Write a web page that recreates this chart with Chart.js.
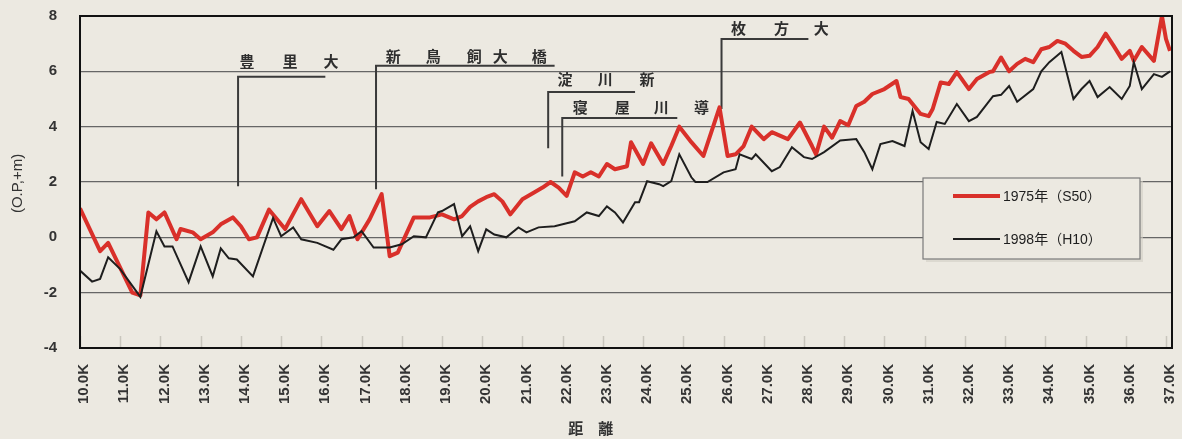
<!DOCTYPE html>
<html>
<head>
<meta charset="utf-8">
<script src="https://cdn.jsdelivr.net/npm/chart.js@4.4.1/dist/chart.umd.min.js"></script>
<style>
  html, body { margin: 0; padding: 0; background: #ece9e1; }
  #wrap { width: 1182px; height: 439px; position: relative; }
</style>
</head>
<body>
<div id="wrap"><canvas id="c" width="1182" height="439"></canvas></div>
<script>
// ---- data (distance in km, elevation in O.P.+m) ----
const seriesNames = ['1975年（S50）', '1998年（H10）'];

const dist1975 = [10.0,10.5,10.7,11.3,11.5,11.7,11.9,12.1,12.4,12.5,12.8,13.0,13.3,13.5,13.8,14.0,14.2,14.4,14.7,15.1,15.5,15.9,16.2,16.5,16.7,16.9,17.2,17.5,17.7,17.9,18.3,18.7,19.0,19.3,19.5,19.7,19.9,20.1,20.3,20.5,20.7,21.0,21.3,21.5,21.7,21.9,22.1,22.3,22.5,22.7,22.9,23.1,23.3,23.6,23.7,24.0,24.2,24.5,24.7,24.9,25.2,25.5,25.9,26.1,26.3,26.5,26.7,27.0,27.2,27.6,27.9,28.2,28.3,28.5,28.7,28.9,29.1,29.3,29.5,29.7,30.0,30.3,30.4,30.6,30.9,31.1,31.2,31.4,31.6,31.8,32.1,32.3,32.6,32.7,32.9,33.1,33.3,33.5,33.7,33.9,34.1,34.3,34.5,34.7,34.9,35.1,35.3,35.5,35.7,35.9,36.1,36.2,36.4,36.7,36.9,37.0,37.1];
const elev1975 = [1.05,-0.5,-0.2,-2.0,-2.1,0.9,0.65,0.9,-0.07,0.3,0.18,-0.07,0.18,0.47,0.72,0.4,-0.07,0.0,1.0,0.3,1.38,0.4,0.95,0.3,0.77,-0.07,0.65,1.56,-0.68,-0.55,0.72,0.72,0.83,0.65,0.77,1.1,1.3,1.45,1.56,1.3,0.83,1.38,1.63,1.8,2.0,1.8,1.5,2.35,2.2,2.35,2.2,2.65,2.46,2.57,3.44,2.65,3.4,2.65,3.3,4.0,3.44,2.94,4.7,2.94,3.0,3.3,4.0,3.55,3.8,3.55,4.15,3.3,3.0,4.0,3.6,4.2,4.05,4.75,4.9,5.18,5.36,5.65,5.07,5.0,4.46,4.38,4.64,5.6,5.54,5.97,5.36,5.72,5.97,6.0,6.5,6.0,6.27,6.45,6.33,6.8,6.88,7.1,7.0,6.74,6.52,6.56,6.88,7.36,6.92,6.45,6.74,6.38,6.88,6.38,8.0,7.17,6.74];

const dist1998 = [10.0,10.3,10.5,10.7,11.0,11.5,11.9,12.1,12.3,12.7,13.0,13.3,13.5,13.7,13.9,14.3,14.8,15.0,15.3,15.5,15.9,16.3,16.5,16.8,17.0,17.3,17.7,18.0,18.3,18.6,18.9,19.0,19.3,19.5,19.7,19.9,20.1,20.3,20.6,20.9,21.1,21.4,21.8,22.0,22.3,22.6,22.9,23.1,23.3,23.5,23.8,23.9,24.1,24.4,24.5,24.7,24.9,25.2,25.3,25.6,26.0,26.3,26.4,26.7,26.8,27.2,27.4,27.7,28.0,28.2,28.5,28.9,29.3,29.5,29.7,29.9,30.2,30.5,30.7,30.9,31.1,31.3,31.5,31.8,32.1,32.3,32.7,32.9,33.1,33.3,33.7,33.9,34.1,34.4,34.7,34.9,35.1,35.3,35.6,35.9,36.1,36.2,36.4,36.7,36.9,37.1];
const elev1998 = [-1.2,-1.6,-1.5,-0.72,-1.15,-2.15,0.22,-0.33,-0.33,-1.62,-0.33,-1.41,-0.4,-0.76,-0.8,-1.41,0.7,0.04,0.36,-0.07,-0.2,-0.45,-0.07,0.0,0.22,-0.37,-0.37,-0.25,0.04,0.0,0.9,0.95,1.2,0.04,0.4,-0.5,0.29,0.1,0.0,0.36,0.18,0.36,0.4,0.47,0.58,0.9,0.77,1.12,0.9,0.54,1.27,1.27,2.03,1.92,1.85,2.03,3.0,2.17,2.0,2.0,2.35,2.46,3.0,2.83,3.0,2.39,2.54,3.26,2.9,2.83,3.08,3.5,3.55,3.08,2.46,3.37,3.48,3.3,4.57,3.44,3.19,4.17,4.1,4.82,4.2,4.35,5.1,5.15,5.47,4.9,5.36,6.0,6.33,6.7,5.0,5.36,5.65,5.07,5.43,5.0,5.47,6.33,5.36,5.9,5.8,6.0];

const xTickKm = [10,11,12,13,14,15,16,17,18,19,20,21,22,23,24,25,26,27,28,29,30,31,32,33,34,35,36,37];
const xTickLabels = ['10.0K','11.0K','12.0K','13.0K','14.0K','15.0K','16.0K','17.0K','18.0K','19.0K','20.0K','21.0K','22.0K','23.0K','24.0K','25.0K','26.0K','27.0K','28.0K','29.0K','30.0K','31.0K','32.0K','33.0K','34.0K','35.0K','36.0K','37.0K'];
const yTicks = [-4,-2,0,2,4,6,8];

// bridge annotations
const bridgeChars = [
  ['豊','里','大'],
  ['新','鳥','飼','大','橋'],
  ['淀','川','新'],
  ['寝','屋','川','導'],
  ['枚','方','大']
];
const bridgeCharKm = [
  [14.15,15.22,16.24],
  [17.79,18.78,19.80,20.45,21.42],
  [22.06,23.06,24.10],
  [22.44,23.48,24.45,25.45],
  [26.37,27.44,28.43]
];
const bridgeTextElev = [6.38, 6.56, 5.72, 4.71, 7.54];
const bridgeLineKm   = [13.93, 17.36, 21.64, 21.99, 25.95];
const bridgeLineTop  = [5.8, 6.2, 5.25, 4.31, 7.17];
const bridgeLineBot  = [1.85, 1.74, 3.22, 2.2, 4.64];
const bridgeLineEnd  = [16.1, 21.8, 23.8, 24.85, 28.11];

const xTitle = '距　離';
const yTitle = '(O.P,+m)';

const BG = '#ece9e1';
const RED = '#d9302a';
const BLACK = '#1e1e1e';

const decor = {
  id: 'decor',
  beforeDraw(chart) {
    const ctx = chart.ctx;
    ctx.save();
    ctx.fillStyle = BG;
    ctx.fillRect(0, 0, chart.width, chart.height);
    ctx.restore();
  },
  beforeDatasetsDraw(chart) {
    const { ctx, chartArea: a, scales: { x, y } } = chart;
    ctx.save();
    ctx.strokeStyle = '#c9c6bd';
    ctx.lineWidth = 1.5;
    xTickKm.forEach(k => {
      const px = Math.round(x.getPixelForValue(k)) + 0.5;
      ctx.beginPath();
      ctx.moveTo(px, a.bottom);
      ctx.lineTo(px, a.bottom - 12);
      ctx.stroke();
    });
    ctx.strokeStyle = '#3a3a3a';
    ctx.lineWidth = 2;
    for (let i = 0; i < bridgeChars.length; i++) {
      const lx = x.getPixelForValue(bridgeLineKm[i]);
      const ly = y.getPixelForValue(bridgeLineTop[i]);
      const lb = y.getPixelForValue(bridgeLineBot[i]);
      const le = x.getPixelForValue(bridgeLineEnd[i]);
      ctx.beginPath();
      ctx.moveTo(lx, lb);
      ctx.lineTo(lx, ly);
      ctx.lineTo(le, ly);
      ctx.stroke();
    }
    ctx.fillStyle = '#2e2e2e';
    ctx.font = 'bold 15px "Noto Sans CJK JP", sans-serif';
    ctx.textAlign = 'center';
    ctx.textBaseline = 'middle';
    for (let i = 0; i < bridgeChars.length; i++) {
      const ty = y.getPixelForValue(bridgeTextElev[i]);
      bridgeChars[i].forEach((ch, j) => {
        ctx.fillText(ch, x.getPixelForValue(bridgeCharKm[i][j]), ty);
      });
    }
    ctx.restore();
  },
  afterDraw(chart) {
    const { ctx, chartArea: a, scales: { x, y } } = chart;
    ctx.save();
    ctx.strokeStyle = '#111';
    ctx.lineWidth = 2;
    ctx.strokeRect(a.left, a.top, a.right - a.left, a.bottom - a.top);

    // legend box
    const bx = a.right - 249, by = a.top + 162, bw = 217, bh = 81;
    ctx.fillStyle = 'rgba(210,206,196,0.6)';
    ctx.fillRect(bx + 3, by + 3, bw, bh);
    ctx.fillStyle = BG;
    ctx.fillRect(bx, by, bw, bh);
    ctx.strokeStyle = '#7a7a7a';
    ctx.lineWidth = 1.2;
    ctx.strokeRect(bx, by, bw, bh);
    const ds = chart.data.datasets;
    const rows = [by + 18, by + 61];
    ctx.font = '14px "Liberation Sans", "Noto Sans CJK JP", sans-serif';
    ctx.textAlign = 'left';
    ctx.textBaseline = 'middle';
    ds.forEach((d, i) => {
      ctx.strokeStyle = d.borderColor;
      ctx.lineWidth = d.borderWidth;
      ctx.beginPath();
      ctx.moveTo(bx + 30, rows[i]);
      ctx.lineTo(bx + 77, rows[i]);
      ctx.stroke();
      ctx.fillStyle = '#1e1e1e';
      ctx.fillText(d.label, bx + 80, rows[i] + 1);
    });

    ctx.fillStyle = '#333';
    ctx.font = 'bold 15px "Noto Sans CJK JP", sans-serif';
    ctx.textAlign = 'center';
    ctx.textBaseline = 'middle';
    ctx.fillText(xTitle, x.getPixelForValue(22.7), 428);
    ctx.translate(18, y.getPixelForValue(1.95));
    ctx.rotate(-Math.PI / 2);
    ctx.font = '15px "Liberation Sans", sans-serif';
    ctx.fillText(yTitle, 0, 0);
    ctx.restore();
  }
};

new Chart(document.getElementById('c'), {
  type: 'line',
  data: {
    datasets: [
      {
        label: seriesNames[0],
        data: dist1975.map((d, i) => ({ x: d, y: elev1975[i] })),
        borderColor: RED,
        borderWidth: 4,
        pointRadius: 0,
        tension: 0,
        fill: false,
        order: 1,
        borderJoinStyle: 'round'
      },
      {
        label: seriesNames[1],
        data: dist1998.map((d, i) => ({ x: d, y: elev1998[i] })),
        borderColor: BLACK,
        borderWidth: 2,
        pointRadius: 0,
        tension: 0,
        fill: false,
        order: 0
      }
    ]
  },
  options: {
    responsive: false,
    animation: false,
    events: [],
    layout: { padding: { left: 0, right: 10, top: 16, bottom: 0 } },
    plugins: { legend: { display: false }, tooltip: { enabled: false } },
    scales: {
      x: {
        type: 'linear',
        min: 10,
        max: 37.15,
        afterBuildTicks: s => { s.ticks = xTickKm.map(v => ({ value: v })); },
        afterFit: s => { s.height = 91; s.paddingLeft = 0; s.paddingRight = 0; },
        grid: { display: false, drawTicks: false },
        border: { display: false },
        ticks: {
          autoSkip: false,
          minRotation: 90,
          maxRotation: 90,
          padding: 16,
          labelOffset: 4,
          color: '#333',
          font: { family: '"Liberation Sans", sans-serif', size: 15, weight: 'bold' },
          callback: (v, i) => xTickLabels[i]
        }
      },
      y: {
        min: -4,
        max: 8,
        afterBuildTicks: s => { s.ticks = yTicks.map(v => ({ value: v })); },
        afterFit: s => { s.width = 80; s.paddingTop = 0; s.paddingBottom = 0; },
        grid: { color: '#666', lineWidth: 1.3, drawTicks: false },
        border: { display: false },
        ticks: {
          padding: 23,
          color: '#333',
          font: { family: '"Liberation Sans", sans-serif', size: 15, weight: 'bold' }
        }
      }
    }
  },
  plugins: [decor]
});
</script>
</body>
</html>
